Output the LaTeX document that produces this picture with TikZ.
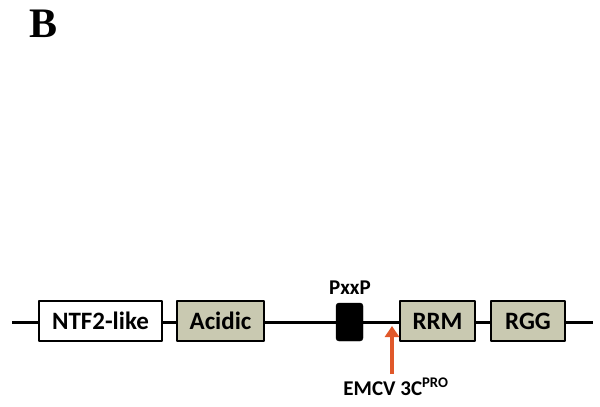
\documentclass[tikz,border=0pt]{standalone}
\usepackage{fontspec}
\setmainfont{Carlito}
\newfontfamily\panelfont{Liberation Serif}
\usetikzlibrary{arrows.meta}
\definecolor{domfill}{HTML}{C9C9B1}
\definecolor{cutorange}{HTML}{E0582A}

\begin{document}
\begin{tikzpicture}[x=1pt,y=-1pt,line cap=butt,line join=round,
  every node/.style={inner sep=0pt,font=\fontsize{25}{27}\selectfont\bfseries},
  dombox/.style={draw,line width=1.3pt,fill=domfill,minimum height=40pt},
  backbone/.style={line width=3pt}]
  \useasboundingbox (0,0) rectangle (600,407);
  \node[font=\fontsize{42}{44}\selectfont\panelfont\bfseries] (lbl) at (44,24) {B};
  % domains
  \node[dombox,fill=white,minimum width=123pt] (ntf) at (100.5,321) {NTF2-like};
  \node[dombox,minimum width=87pt] (acid) at (220.5,321) {Acidic};
  \node[draw,fill=black,rounded corners=3pt,minimum width=27pt,minimum height=38pt] (pxxp) at (349.5,322) {};
  \node[dombox,minimum width=75pt] (rrm) at (437.5,321) {RRM};
  \node[dombox,minimum width=74pt] (rgg) at (528,321) {RGG};
  \coordinate (lend) at (12,322);
  \coordinate (rend) at (593,322);
  % backbone
  \draw[backbone] (lend) -- (lend -| ntf.west);
  \draw[backbone] (lend -| ntf.east) -- (lend -| acid.west);
  \draw[backbone] (lend -| acid.east) -- (pxxp.west);
  \draw[backbone] (pxxp.east) -- (lend -| rrm.west);
  \draw[backbone] (lend -| rrm.east) -- (lend -| rgg.west);
  \draw[backbone] (lend -| rgg.east) -- (rend);
  \node[font=\fontsize{21}{23}\selectfont\bfseries] (pxxplbl) at (350,288) {PxxP};
  % cleavage site
  \coordinate (cut) at (392,326);
  \node[font=\fontsize{21}{23}\selectfont\bfseries] (emcv) at (396,387) {EMCV 3C\textsuperscript{PRO}};
  \draw[cutorange,line width=4pt,-{Triangle[width=14pt,length=11pt]}] (392,374) -- (cut);
\end{tikzpicture}
\end{document}
